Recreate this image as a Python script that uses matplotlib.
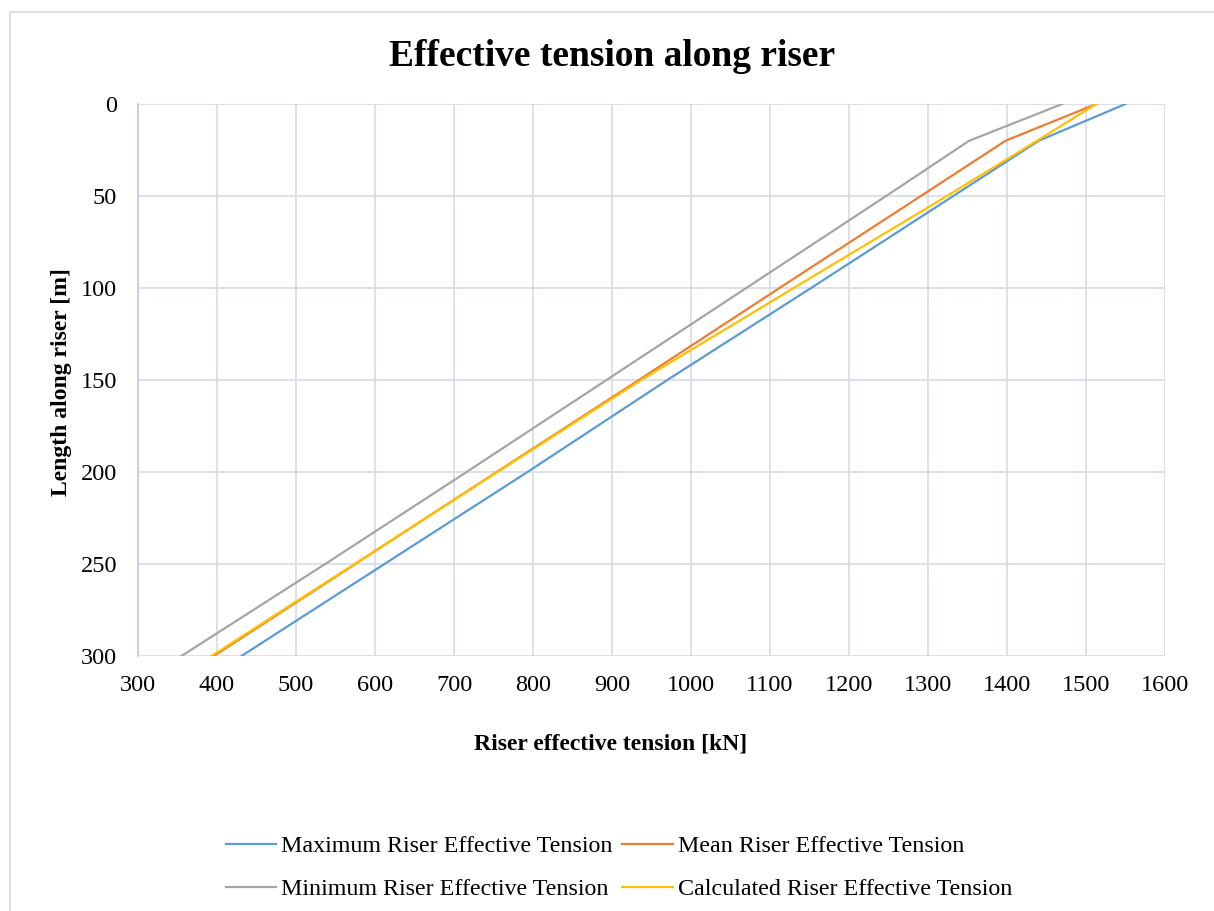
import matplotlib.pyplot as plt
from matplotlib.patches import Rectangle

plt.rcParams['font.family'] = ['Liberation Serif', 'DejaVu Serif']

# depth along riser [m]
depth = [0, 20, 50, 100, 150, 200, 250, 300]

# effective tension [kN]
t_max = [1550, 1440, 1332, 1152, 970, 793, 612, 431]
t_mean = [1513, 1398, 1291, 1112, 934, 754, 575, 396]
t_min = [1470, 1352, 1247, 1070, 893, 716, 537, 355]
t_calc = [1513, 1438, 1324, 1130, 937, 755, 574, 393]

labels = ['Maximum Riser Effective Tension', 'Mean Riser Effective Tension',
          'Minimum Riser Effective Tension', 'Calculated Riser Effective Tension']
colors = ['#5B9BD5', '#ED7D31', '#A5A5A5', '#FFC000']

fig = plt.figure(figsize=(12.14, 9.11), dpi=100)
ax = fig.add_axes([138/1214, 1-656/911, (1165-138)/1214, (656-104)/911])

series = [t_max, t_mean, t_min, t_calc]
lines = []
for s, lab, c in zip(series, labels, colors):
    ln, = ax.plot(s, depth, color=c, lw=1.6, label=lab)
    lines.append(ln)

ax.set_xlim(300, 1600)
ax.set_ylim(300, 0)
ax.set_xticks(range(300, 1601, 100))
ax.set_yticks(range(0, 301, 50))
ax.tick_params(length=0, labelsize=17.5)
ax.tick_params(axis='x', pad=14)
ax.tick_params(axis='y', pad=15)
ax.grid(True, color='#D9DEE7', lw=1.3)
ax.set_axisbelow(True)
for sp in ['top', 'right', 'bottom']:
    ax.spines[sp].set_visible(False)
ax.spines['left'].set_color('#BFCADB')
ax.spines['left'].set_linewidth(1.3)

fig.text(612/1214, 1-56/911, 'Effective tension along riser', ha='center', va='center',
         fontsize=27, fontweight='bold')
fig.text(611/1214, 1-744/911, 'Riser effective tension [kN]', ha='center', va='center',
         fontsize=17, fontweight='bold')
fig.text(62/1214, 1-382/911, 'Length along riser [m]', ha='center', va='center',
         fontsize=17, fontweight='bold', rotation=90)

# order: max, mean / min, calc (row-wise)
leg = fig.legend([lines[0], lines[2], lines[1], lines[3]],
                 [labels[0], labels[2], labels[1], labels[3]],
                 ncol=2, loc='center', bbox_to_anchor=(619/1214, 1-868/911),
                 frameon=False, fontsize=17.3, handlelength=2.1, handletextpad=0.2,
                 columnspacing=0.4, labelspacing=0.88, borderpad=0)

fig.patches.append(Rectangle((10/1214, -0.01), 1.02, 1-12/911+0.01, transform=fig.transFigure,
                             fill=False, edgecolor='#D9D9D9', lw=1.2))

fig.savefig('out.png', dpi=100)
